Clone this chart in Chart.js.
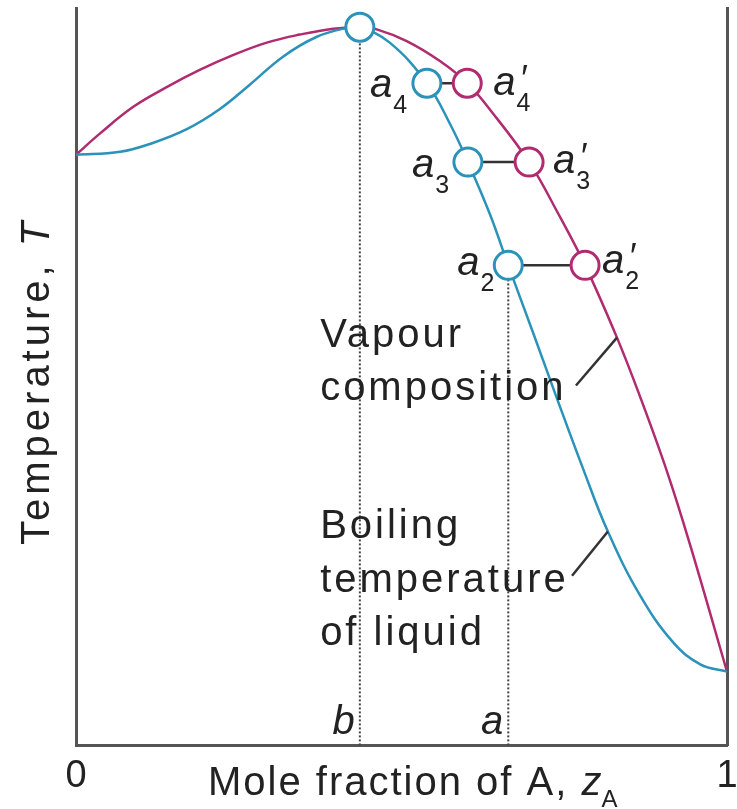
<!DOCTYPE html>
<html>
<head>
<meta charset="utf-8">
<script src="https://cdn.jsdelivr.net/npm/chart.js@4.4.1/dist/chart.umd.min.js"></script>
<style>
  html, body { margin: 0; padding: 0; background: #fff; }
  #wrap { width: 737px; height: 809px; }
</style>
</head>
<body>
<div id="wrap"><canvas id="c" width="737" height="809"></canvas></div>
<script>
// mole fraction of A (z) against temperature (T in relative units 0-100)
const liquidZ = [0, 0.068, 0.118, 0.171, 0.221, 0.267, 0.318, 0.370, 0.416, 0.436, 0.482, 0.539, 0.575, 0.602, 0.636, 0.664, 0.702, 0.739, 0.779, 0.817, 0.866, 0.917, 0.959, 1];
const liquidT = [80.1, 80.5, 81.7, 83.6, 86.3, 89.6, 93.4, 96.1, 97.3, 97.4, 95.3, 89.8, 84.2, 79.1, 72.0, 65.1, 56.0, 47.0, 37.5, 29.0, 20.4, 14.0, 11.0, 10.0];
const vapourZ = [0, 0.037, 0.088, 0.140, 0.190, 0.241, 0.293, 0.344, 0.395, 0.436, 0.462, 0.508, 0.559, 0.601, 0.636, 0.696, 0.739, 0.782, 0.831, 0.866, 0.908, 0.943, 1];
const vapourT = [80.1, 83.0, 86.6, 89.3, 91.6, 93.6, 95.3, 96.4, 97.2, 97.4, 97.1, 95.5, 92.8, 89.8, 86.2, 79.1, 72.4, 65.1, 55.3, 47.4, 37.1, 27.3, 10.0];

// marked states: b (azeotrope), a4, a3, a2 on the liquid curve and a4', a3', a2' on the vapour curve
const liquidMarkZ = [0.436, 0.539, 0.602, 0.664];
const liquidMarkT = [97.4, 89.8, 79.1, 65.1];
const vapourMarkZ = [0.601, 0.696, 0.782];
const vapourMarkT = [89.8, 79.1, 65.1];
const markNames = ['4', '3', '2'];

// leader lines from the text to each curve
const vapourLeaderZ = [0.768, 0.831];
const vapourLeaderT = [48.8, 55.3];
const liquidLeaderZ = [0.762, 0.817];
const liquidLeaderT = [23.0, 29.0];

const xTicks = [0, 1];

const BLUE = '#2b92b9';
const PINK = '#b02b6f';
const INK = '#222';
const FONT = '"Liberation Sans", Arial, sans-serif';

const pts = (xs, ys) => xs.map((v, i) => ({ x: v, y: ys[i] }));

const datasets = [
  { data: pts(liquidMarkZ, liquidMarkT), showLine: false, pointRadius: 14, pointBorderWidth: 3,
    pointBorderColor: BLUE, pointBackgroundColor: '#fff', order: 0 },
  { data: pts(vapourMarkZ, vapourMarkT), showLine: false, pointRadius: 14, pointBorderWidth: 3,
    pointBorderColor: PINK, pointBackgroundColor: '#fff', order: 0 },
  { data: pts(liquidZ, liquidT), showLine: true, borderColor: BLUE, borderWidth: 2.5,
    pointRadius: 0, tension: 0.4, order: 2 },
  { data: pts(vapourZ, vapourT), showLine: true, borderColor: PINK, borderWidth: 2.5,
    pointRadius: 0, tension: 0.4, order: 2 },
  // dotted verticals at b and a
  { data: [{ x: liquidMarkZ[0], y: 0 }, { x: liquidMarkZ[0], y: liquidMarkT[0] }], showLine: true,
    borderColor: '#444', borderWidth: 2, borderDash: [2, 2], pointRadius: 0, order: 3 },
  { data: [{ x: liquidMarkZ[3], y: 0 }, { x: liquidMarkZ[3], y: liquidMarkT[3] }], showLine: true,
    borderColor: '#444', borderWidth: 2, borderDash: [2, 2], pointRadius: 0, order: 3 },
  { data: pts(vapourLeaderZ, vapourLeaderT), showLine: true, borderColor: '#333', borderWidth: 2.5, pointRadius: 0, order: 1 },
  { data: pts(liquidLeaderZ, liquidLeaderT), showLine: true, borderColor: '#333', borderWidth: 2.5, pointRadius: 0, order: 1 }
];

// tie lines a_n -- a_n'
vapourMarkZ.forEach((z, i) => {
  datasets.push({ data: [{ x: liquidMarkZ[i + 1], y: liquidMarkT[i + 1] }, { x: z, y: vapourMarkT[i] }],
    showLine: true, borderColor: '#333', borderWidth: 2.5, pointRadius: 0, order: 1 });
});

function put(ctx, s, x, y, font, spacing) {
  ctx.font = font;
  ctx.letterSpacing = (spacing || 0) + 'px';
  ctx.fillText(s, x, y);
  const w = ctx.measureText(s).width;
  ctx.letterSpacing = '0px';
  return w;
}

function tag(ctx, x, y, sub, prime) {
  const w = put(ctx, 'a', x, y, 'italic 40px ' + FONT);
  put(ctx, sub, x + w + 1, y + 16, '25px ' + FONT);
  if (prime) put(ctx, '\u2032', x + w + 4, y - 4, 'italic 36px ' + FONT);
}

const notes = {
  id: 'notes',
  afterDatasetsDraw(chart) {
    const { ctx, scales: { x, y } } = chart;
    ctx.save();
    ctx.fillStyle = INK;
    ctx.textBaseline = 'alphabetic';
    ctx.textAlign = 'left';

    // a4, a3, a2 to the left of the liquid marks, primes to the right of the vapour marks
    const leftOff = [-57, -56, -51];
    const leftDrop = [14, 15, 10];
    const rightOff = [26, 24, 17];
    const rightDrop = [12, 11, 8];
    markNames.forEach((n, i) => {
      const lx = x.getPixelForValue(liquidMarkZ[i + 1]);
      const ly = y.getPixelForValue(liquidMarkT[i + 1]);
      tag(ctx, lx + leftOff[i], ly + leftDrop[i], n, false);
      const vx = x.getPixelForValue(vapourMarkZ[i]);
      const vy = y.getPixelForValue(vapourMarkT[i]);
      tag(ctx, vx + rightOff[i], vy + rightDrop[i], n, true);
    });

    // b and a at the foot of the dotted lines
    ctx.textAlign = 'right';
    put(ctx, 'b', x.getPixelForValue(liquidMarkZ[0]) - 5, 734, 'italic 40px ' + FONT);
    put(ctx, 'a', x.getPixelForValue(liquidMarkZ[3]) - 5, 734, 'italic 40px ' + FONT);
    ctx.textAlign = 'left';

    // curve captions
    const tx = x.getPixelForValue(0.375);
    const body = '40px ' + FONT;
    put(ctx, 'Vapour', tx, 347, body, 3);
    put(ctx, 'composition', tx, 400, body, 3);
    put(ctx, 'Boiling', tx, 538, body, 3);
    put(ctx, 'temperature', tx, 592, body, 3);
    put(ctx, 'of liquid', tx, 645, body, 3);

    // x axis title
    let w = put(ctx, 'Mole fraction of A, ', 208, 795, body, 2);
    const zw = put(ctx, 'z', 208 + w, 795, 'italic 40px ' + FONT, 0);
    put(ctx, 'A', 208 + w + zw, 807, '24px ' + FONT, 0);

    // y axis title
    ctx.translate(49, 545);
    ctx.rotate(-Math.PI / 2);
    w = put(ctx, 'Temperature, ', 0, 0, body, 4);
    put(ctx, 'T', w, 0, 'italic 40px ' + FONT, 0);
    ctx.restore();
  }
};

new Chart(document.getElementById('c'), {
  type: 'scatter',
  data: { datasets },
  options: {
    responsive: false,
    animation: false,
    devicePixelRatio: 1,
    layout: { autoPadding: false, padding: { left: 76, right: 10, top: 8, bottom: 2 } },
    plugins: { legend: { display: false }, tooltip: { enabled: false } },
    scales: {
      x: {
        type: 'linear', min: 0, max: 1,
        afterBuildTicks: (s) => { s.ticks = xTicks.map(v => ({ value: v })); },
        afterFit: (s) => { s.paddingLeft = 0; s.paddingRight = 0; },
        grid: { display: false, drawTicks: false },
        border: { color: '#555', width: 3 },
        ticks: { color: INK, font: { family: FONT, size: 38 }, padding: 8, maxRotation: 0 }
      },
      y: {
        min: 0, max: 100,
        grid: { display: false, drawTicks: false },
        border: { color: '#555', width: 3 },
        ticks: { display: false }
      },
      y2: {
        position: 'right', min: 0, max: 100,
        afterFit: (s) => { s.width = 0; },
        grid: { display: false, drawTicks: false },
        border: { color: '#555', width: 3 },
        ticks: { display: false }
      }
    }
  },
  plugins: [notes]
});
</script>
</body>
</html>
